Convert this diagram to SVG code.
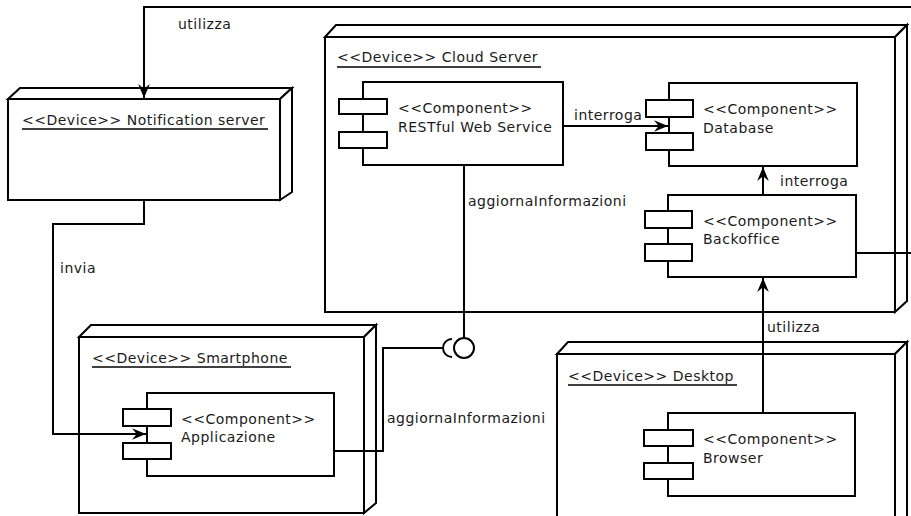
<svg xmlns="http://www.w3.org/2000/svg" width="911" height="516" viewBox="0 0 911 516">
<style>
.n{fill:#fff;stroke:#000;stroke-width:2;stroke-linejoin:miter}
.c{fill:none;stroke:#000;stroke-width:2}
.t{font-family:"DejaVu Sans",sans-serif;font-size:14px;letter-spacing:0.5px;fill:#1a1a1a}
.u{stroke:#000;stroke-width:1.5}
</style>
<defs>
<marker id="ah" viewBox="0 0 12 12" refX="12" refY="6" markerWidth="14" markerHeight="14" markerUnits="userSpaceOnUse" orient="auto">
<path d="M0,1 L12,6 L0,11 L4,6 z" fill="#000"/>
</marker>
</defs>
<rect width="911" height="516" fill="#fff"/>

<g id="notification-server">
<path class="n" d="M8,99 L20,88 L292,88 L280,99 Z"/>
<path class="n" d="M280,99 L292,88 L292,192 L280,200 Z"/>
<rect class="n" x="8" y="99" width="272" height="101"/>
<text class="t" x="22" y="125">&lt;&lt;Device&gt;&gt; Notification server</text>
<line class="u" x1="22" y1="129" x2="268" y2="129"/>
</g>

<g id="cloud-server">
<path class="n" d="M325,37 L336,25 L907,25 L895,37 Z"/>
<path class="n" d="M895,37 L907,25 L907,301 L895,312 Z"/>
<rect class="n" x="325" y="37" width="570" height="275"/>
<text class="t" x="337" y="62">&lt;&lt;Device&gt;&gt; Cloud Server</text>
<line class="u" x1="337" y1="67" x2="541" y2="67"/>
</g>

<g id="restful">
<rect class="n" x="363" y="82" width="200" height="83"/>
<rect class="n" x="339" y="99" width="48" height="15"/>
<rect class="n" x="339" y="132" width="48" height="16"/>
<text class="t" x="398" y="113">&lt;&lt;Component&gt;&gt;</text>
<text class="t" x="398" y="132">RESTful Web Service</text>
</g>

<g id="database">
<rect class="n" x="669" y="83" width="188" height="83"/>
<rect class="n" x="646" y="100" width="47" height="17"/>
<rect class="n" x="646" y="133" width="47" height="17"/>
<text class="t" x="703" y="114">&lt;&lt;Component&gt;&gt;</text>
<text class="t" x="703" y="133">Database</text>
</g>

<g id="backoffice">
<rect class="n" x="668" y="195" width="188" height="82"/>
<rect class="n" x="645" y="211" width="47" height="17"/>
<rect class="n" x="645" y="244" width="47" height="17"/>
<text class="t" x="703" y="226">&lt;&lt;Component&gt;&gt;</text>
<text class="t" x="703" y="244">Backoffice</text>
</g>

<g id="smartphone">
<path class="n" d="M79,337 L91,325 L376,325 L364,337 Z"/>
<path class="n" d="M364,337 L376,325 L376,503 L364,513 Z"/>
<rect class="n" x="79" y="337" width="285" height="176"/>
<text class="t" x="92" y="363">&lt;&lt;Device&gt;&gt; Smartphone</text>
<line class="u" x1="92" y1="367" x2="291" y2="367"/>
</g>

<g id="applicazione">
<rect class="n" x="147" y="393" width="187" height="83"/>
<rect class="n" x="123" y="409" width="48" height="17"/>
<rect class="n" x="123" y="443" width="48" height="16"/>
<text class="t" x="181" y="424">&lt;&lt;Component&gt;&gt;</text>
<text class="t" x="181" y="442">Applicazione</text>
</g>

<g id="desktop">
<path class="n" d="M557,354 L568,342 L907,342 L895,354 Z"/>
<path class="n" d="M895,354 L907,342 L907,530 L895,540 Z"/>
<rect class="n" x="557" y="354" width="338" height="180"/>
<text class="t" x="568" y="381">&lt;&lt;Device&gt;&gt; Desktop</text>
<line class="u" x1="568" y1="385" x2="737" y2="385"/>
</g>

<g id="browser">
<rect class="n" x="668" y="413" width="187" height="83"/>
<rect class="n" x="644" y="430" width="49" height="16"/>
<rect class="n" x="644" y="463" width="49" height="16"/>
<text class="t" x="703" y="444">&lt;&lt;Component&gt;&gt;</text>
<text class="t" x="703" y="463">Browser</text>
</g>

<g id="connectors">
<path class="c" d="M911,7 L144,7 L144,98" marker-end="url(#ah)"/>
<text class="t" x="178" y="29">utilizza</text>
<path class="c" d="M144,200 L144,224 L53,224 L53,434 L146,434" marker-end="url(#ah)"/>
<text class="t" x="60" y="273">invia</text>
<path class="c" d="M563,126 L668,126" marker-end="url(#ah)"/>
<text class="t" x="574" y="120">interroga</text>
<path class="c" d="M763,195 L763,167" marker-end="url(#ah)"/>
<text class="t" x="780" y="186">interroga</text>
<path class="c" d="M763,413 L763,278" marker-end="url(#ah)"/>
<text class="t" x="767" y="332">utilizza</text>
<path class="c" d="M856,253 L911,253"/>
<path class="c" d="M464,165 L464,338"/>
<circle class="c" cx="464" cy="348" r="10"/>
<text class="t" x="468" y="206">aggiornaInformazioni</text>
<path class="c" d="M334,451 L383,451 L383,348 L443,348"/>
<path class="c" d="M452,339 A9,9 0 0 0 452,357"/>
<text class="t" x="387" y="423">aggiornaInformazioni</text>
</g>
</svg>
